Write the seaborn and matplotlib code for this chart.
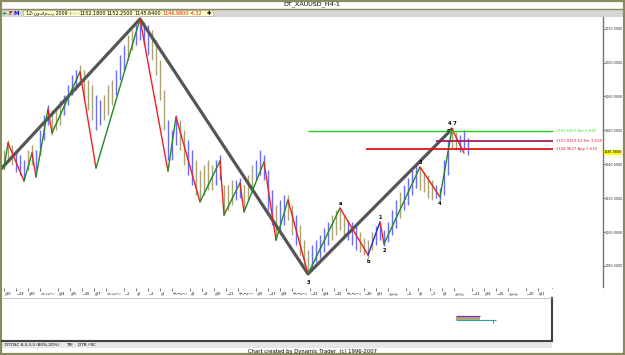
import numpy as np
import pandas as pd
import matplotlib
matplotlib.use("Agg")
import matplotlib.pyplot as plt
import seaborn as sns
from matplotlib.patches import Rectangle

# ---------------- data ----------------
bar_high = [1148.4, 1154.3, 1151.4, 1148.4, 1145.5, 1142.5, 1148.4, 1151.4, 1148.4, 1160.2,
            1169.0, 1175.0, 1172.0, 1172.0, 1177.9, 1180.9, 1186.8, 1192.7, 1195.6, 1198.6,
            1195.6, 1189.7, 1186.8, 1180.9, 1177.9, 1180.9, 1186.8, 1189.7, 1195.6, 1204.4,
            1210.4, 1216.3, 1219.2, 1222.2, 1225.7, 1224.0, 1222.2, 1219.2, 1213.3, 1201.5,
            1183.8, 1166.1, 1160.2, 1169.0, 1166.1, 1160.2, 1154.3, 1148.4, 1142.5, 1136.6,
            1139.6, 1142.5, 1139.6, 1142.5, 1145.5, 1127.8, 1127.8, 1130.7, 1130.7, 1131.9,
            1127.8, 1133.7, 1139.6, 1142.5, 1148.4, 1145.5, 1136.6, 1124.8, 1116.0, 1118.9,
            1121.9, 1121.9, 1116.0, 1110.1, 1104.2, 1095.3, 1089.4, 1092.4, 1095.3, 1098.3,
            1102.4, 1106.0, 1110.1, 1113.0, 1114.2, 1110.1, 1107.1, 1106.0, 1104.2, 1100.1,
            1096.5, 1095.3, 1100.1, 1103.6, 1106.0, 1101.2, 1106.0, 1113.0, 1118.9, 1123.7,
            1127.8, 1131.9, 1136.6, 1139.6, 1138.4, 1135.5, 1133.7, 1130.7, 1127.8, 1126.0,
            1142.5, 1154.3, 1160.8, 1159.1, 1157.3, 1160.2, 1155.5]
bar_low = [1136.6, 1142.5, 1139.6, 1135.5, 1133.7, 1130.7, 1136.6, 1139.6, 1136.6, 1145.5,
           1154.3, 1163.2, 1157.3, 1160.2, 1163.2, 1169.1, 1175.0, 1180.9, 1183.8, 1186.8,
           1177.9, 1172.0, 1166.1, 1160.2, 1163.2, 1166.1, 1169.1, 1175.0, 1180.9, 1189.7,
           1195.6, 1201.5, 1207.4, 1210.4, 1213.3, 1210.4, 1204.4, 1201.5, 1192.7, 1177.9,
           1160.2, 1142.5, 1142.5, 1151.4, 1148.4, 1139.6, 1133.7, 1127.8, 1121.9, 1118.9,
           1121.9, 1124.8, 1124.8, 1127.8, 1130.7, 1110.1, 1113.0, 1116.0, 1118.9, 1120.1,
           1113.0, 1118.9, 1124.8, 1130.7, 1133.7, 1130.7, 1113.0, 1104.2, 1095.3, 1101.2,
           1104.2, 1107.1, 1098.3, 1092.4, 1086.5, 1080.6, 1075.3, 1078.8, 1082.4, 1084.7,
           1088.3, 1092.4, 1095.3, 1098.3, 1101.2, 1096.5, 1095.3, 1092.4, 1089.4, 1088.3,
           1086.5, 1084.7, 1089.4, 1092.4, 1095.3, 1091.8, 1094.2, 1098.3, 1102.4, 1108.3,
           1113.0, 1116.0, 1121.9, 1126.0, 1124.8, 1123.7, 1120.1, 1118.9, 1120.1, 1118.9,
           1121.9, 1133.7, 1149.6, 1148.4, 1147.3, 1148.4, 1145.5]
bar_kind = list("kkkbbbkkbbbbkkkbbbbkkkkbbkkkbbbkkbbbbkkkkbbbkkbbkkkkkbbkkkbbkkkbbbbbkbbkkbkkkbbbbbkkkkbbbkkkkbbbbbbkbbbbkkkkbbbbkkbbb")

zz_idx = [0, 1, 5, 7, 8, 11, 12, 19, 23, 34, 41, 43, 49, 54, 55, 59, 60, 65, 68, 71,
          76, 84, 91, 94, 95, 104, 109, 112, 115]
zz_price = [1137.8, 1152.6, 1130.1, 1146.7, 1132.5, 1172.6, 1158.5, 1194.5, 1137.8, 1225.7,
            1136.0, 1167.9, 1117.8, 1141.9, 1110.1, 1129.0, 1111.9, 1141.4, 1095.3, 1118.9,
            1075.3, 1114.2, 1086.5, 1106.0, 1093.0, 1138.4, 1120.7, 1160.8, 1146.7]
blue_segments = [22]   # segment b -> 1

big_idx = [-1, 34, 76, 112]
big_price = [1136.6, 1225.7, 1075.3, 1160.8]

wave_labels = ["3", "a", "b", "1", "2", "3", "4", "c", "4 7"]
wave_idx = [76, 84, 91, 94, 95, 104, 109, 111, 112]
wave_price = [1075.3, 1114.2, 1086.5, 1106.0, 1093.0, 1138.4, 1120.7, 1160.8, 1160.8]
wave_off = [-6, 3, -5, 3, -5, 3, -5, -1, 4]

fib_levels = [1159.6, 1153.7, 1149.0]
fib_start = [76, 108, 90.5]
fib_end = 137.2
fib_text = ["1159.6157 Ret 1.618", "1153.8353 E3 Ret 1.618", "1148.9627 App 1.618"]
fib_color = ["#22cc22", "#a0205a", "#e01818"]
fib_text_color = ["#33dd33", "#e02040", "#e02020"]

price_ticks = [1080, 1100, 1120, 1140, 1160, 1180, 1200, 1220]
last_price = 1146.98

date_labels = ["ج10", "ب19", "ج20", "نوفمبر", "خ24", "ج25", "ب26", "ج27", "نوفمبر", "ب1",
               "ج2", "ب3", "ج4", "ديسمبر", "ج8", "ب9", "ج10", "ب11", "ديسمبر", "ج16",
               "ب17", "ج18", "ديسمبر", "ب23", "ج24", "ب25", "ديسمبر", "ب30", "ج31", "يناير",
               "ب5", "ج6", "ب7", "ج8", "يناير", "ب13", "ج14", "ب15", "يناير", "ب20",
               "ج21"]

tri_bar = [113, 119]
tri_line = [113, 123]

# ---------------- figure ----------------
W, H = 625, 355
sns.set_theme(style="white")
plt.rcParams['font.family'] = ['DejaVu Sans']
fig = plt.figure(figsize=(W / 100, H / 100), dpi=100)
fig.patch.set_facecolor("white")

def px_axes(x0, y0, x1, y1, **kw):
    return fig.add_axes([x0 / W, 1 - y1 / H, (x1 - x0) / W, (y1 - y0) / H], **kw)

olive = "#8a8a5c"

# overlay for chrome (pixel coords)
ov = px_axes(0, 0, W, H)
ov.set_xlim(0, W); ov.set_ylim(H, 0); ov.axis("off")
ov.add_patch(Rectangle((1, 9), 623, 8, fc="#d6d6d6", ec="none"))
ov.add_patch(Rectangle((23, 10), 190, 6, fc="#ffffcc", ec="#a0a0a0", lw=0.4))
ov.plot([0, W], [8.5, 8.5], color=olive, lw=1)
ov.text(312, 4.6, "DT_XAUUSD_H4-1", fontsize=4.6, ha="center", va="center", color="black")
ov.text(4, 13.2, "+", fontsize=4.5, color="#109010", ha="center", va="center", weight="bold")
ov.text(10.5, 13.2, "F", fontsize=4, color="#d01010", ha="center", va="center", weight="bold")
ov.text(16.5, 13.2, "M", fontsize=4, color="#1010c0", ha="center", va="center", weight="bold")
ov.text(26, 13.2, "12-نوفمبر 2009 ١٠:٠٠", fontsize=3.4, va="center", color="black")
for xx, t, c in [(79, "1152.1800", "black"), (106, "1152.2500", "black"), (134, "1145.6400", "black"),
                 (162, "1146.9800", "#e02020"), (190, "-4.32", "#e02020")]:
    ov.text(xx, 13.2, t, fontsize=3.5, va="center", color=c)
ov.text(207, 13.2, "✚", fontsize=4, va="center", color="black")
# date row frame
ov.plot([2, 552], [287.5, 287.5], color="#707070", lw=0.6)
ov.plot([2, 552], [297.5, 297.5], color="#707070", lw=0.6)
# tabs row
ov.add_patch(Rectangle((2, 341), 550, 7, fc="#e6e6e6", ec="none"))
ov.text(5, 345, "DTOSC 8,5,3,3 (80%-20%)", fontsize=3.0, va="center", color="black")
ov.text(66, 345, "TRI", fontsize=3.0, va="center", color="black")
ov.text(78, 345, "DTR / RC", fontsize=3.0, va="center", color="black")
ov.text(312, 351, "Chart created by Dynamic Trader  (c) 1996-2007", fontsize=3.8,
        ha="center", va="center", color="black")
# lower panel text
ov.text(4, 300.5, "TRI", fontsize=3.0, va="center", color="black")
ov.text(13, 300.5, "1136200-1136200", fontsize=3.0, va="center", color="#a020a0")
ov.text(57, 300.5, "1136200-1136200", fontsize=3.0, va="center", color="black")
ov.text(100, 300.5, "1136200-1536400", fontsize=3.0, va="center", color="#208080")
# outer frame
ov.add_patch(Rectangle((0.8, 0.8), W - 1.6, H - 1.6, fc="none", ec=olive, lw=1.6))

# ---------------- main price axes ----------------
ax = px_axes(2, 17, 603, 287)
ax.set_facecolor("white")
ax.set_xlim(-0.5, 149.75)
ax.set_ylim(1067.6, 1226.9)

x = np.arange(len(bar_high))
cmap = {"b": "#6c6cff", "k": "#aaa272"}
cols = [cmap[k] for k in bar_kind]
ax.vlines(x, bar_low, bar_high, colors=cols, lw=1.0, zorder=2)

sns.lineplot(x=big_idx, y=big_price, color="#555555", lw=2.3, ax=ax, zorder=3)

for s in range(len(zz_idx) - 1):
    p0, p1 = zz_price[s], zz_price[s + 1]
    if s in blue_segments:
        c = "#2030d0"
    elif p1 > p0:
        c = "#228822"
    else:
        c = "#ee2020"
    sns.lineplot(x=[zz_idx[s], zz_idx[s + 1]], y=[p0, p1], color=c, lw=1.0, ax=ax, zorder=4)

for t, i, p, o in zip(wave_labels, wave_idx, wave_price, wave_off):
    ax.annotate(t, (i, p), xytext=(0, o), textcoords="offset points", fontsize=3.6,
                ha="center", va="center", color="black", weight="bold", zorder=6)

for lv, st, tx, c, tc in zip(fib_levels, fib_start, fib_text, fib_color, fib_text_color):
    ax.hlines(lv, st, fib_end, colors=c, lw=1.3 if c != "#22cc22" else 1.0, zorder=5)
    ax.text(fib_end + 0.7, lv, tx, fontsize=2.7, color=tc, va="center", ha="left")

ax.yaxis.tick_right()
ax.set_yticks(price_ticks)
ax.set_yticklabels([f"{v:.4f}" for v in price_ticks], fontsize=2.45, color="#333333")
ax.tick_params(axis="y", length=1.2, width=0.5, pad=0.3, colors="#333333")
ax.set_xticks([])
for sp in ["left", "top", "bottom"]:
    ax.spines[sp].set_visible(False)
ax.spines["right"].set_color("#7a7a5a")
ax.spines["right"].set_linewidth(1.0)
ax.annotate(f"{last_price:.4f}", xy=(1.0015, last_price), xycoords=("axes fraction", "data"),
            fontsize=2.45, va="center", ha="left", color="black",
            bbox=dict(boxstyle="square,pad=0.1", fc="#ffff00", ec="none"), annotation_clip=False)

# ---------------- date axis ----------------
axd = px_axes(2, 288, 552, 297)
axd.set_xlim(-0.5, 137.0)
axd.set_ylim(0, 1)
# month-name labels are wider, so they get a wider slot
tick_pos = []
pos = 0.0
for t in date_labels:
    tick_pos.append(pos)
    pos += 4.5 if len(t) > 3 else 3.0
axd.set_xticks(tick_pos)
axd.set_xticklabels([])
axd.tick_params(axis="x", top=True, bottom=False, direction="in", length=2, width=0.5, colors="#444444")
axd.set_yticks([])
for sp in axd.spines.values():
    sp.set_visible(False)
for p, t in zip(tick_pos, date_labels):
    axd.text(p + 0.2, 0.4, t, fontsize=2.4, va="center", ha="left", color="black")

# ---------------- lower panel ----------------
axl = px_axes(2, 298, 552, 341)
axl.set_xlim(-0.5, 137.0)
axl.set_ylim(0, 1)
axl.set_xticks([]); axl.set_yticks([])
axl.set_facecolor("white")
axl.spines["left"].set_visible(False)
axl.spines["top"].set_color("#b0b0b0")
axl.spines["top"].set_linewidth(0.5)
axl.spines["right"].set_color("#404040")
axl.spines["bottom"].set_color("#404040")
axl.spines["right"].set_linewidth(1.5)
axl.spines["bottom"].set_linewidth(1.5)
axl.fill_between(tri_bar, 0.5, 0.56, color="#b0a878", lw=0)
axl.hlines(0.58, tri_bar[0], tri_bar[1], colors="#8030b0", lw=0.9)
axl.hlines(0.48, tri_line[0], tri_line[1], colors="#30a0a0", lw=0.8)
axl.vlines(tri_line[1] - 0.7, 0.42, 0.5, colors="#30a0a0", lw=0.8)

fig.savefig("out.png", dpi=100)
